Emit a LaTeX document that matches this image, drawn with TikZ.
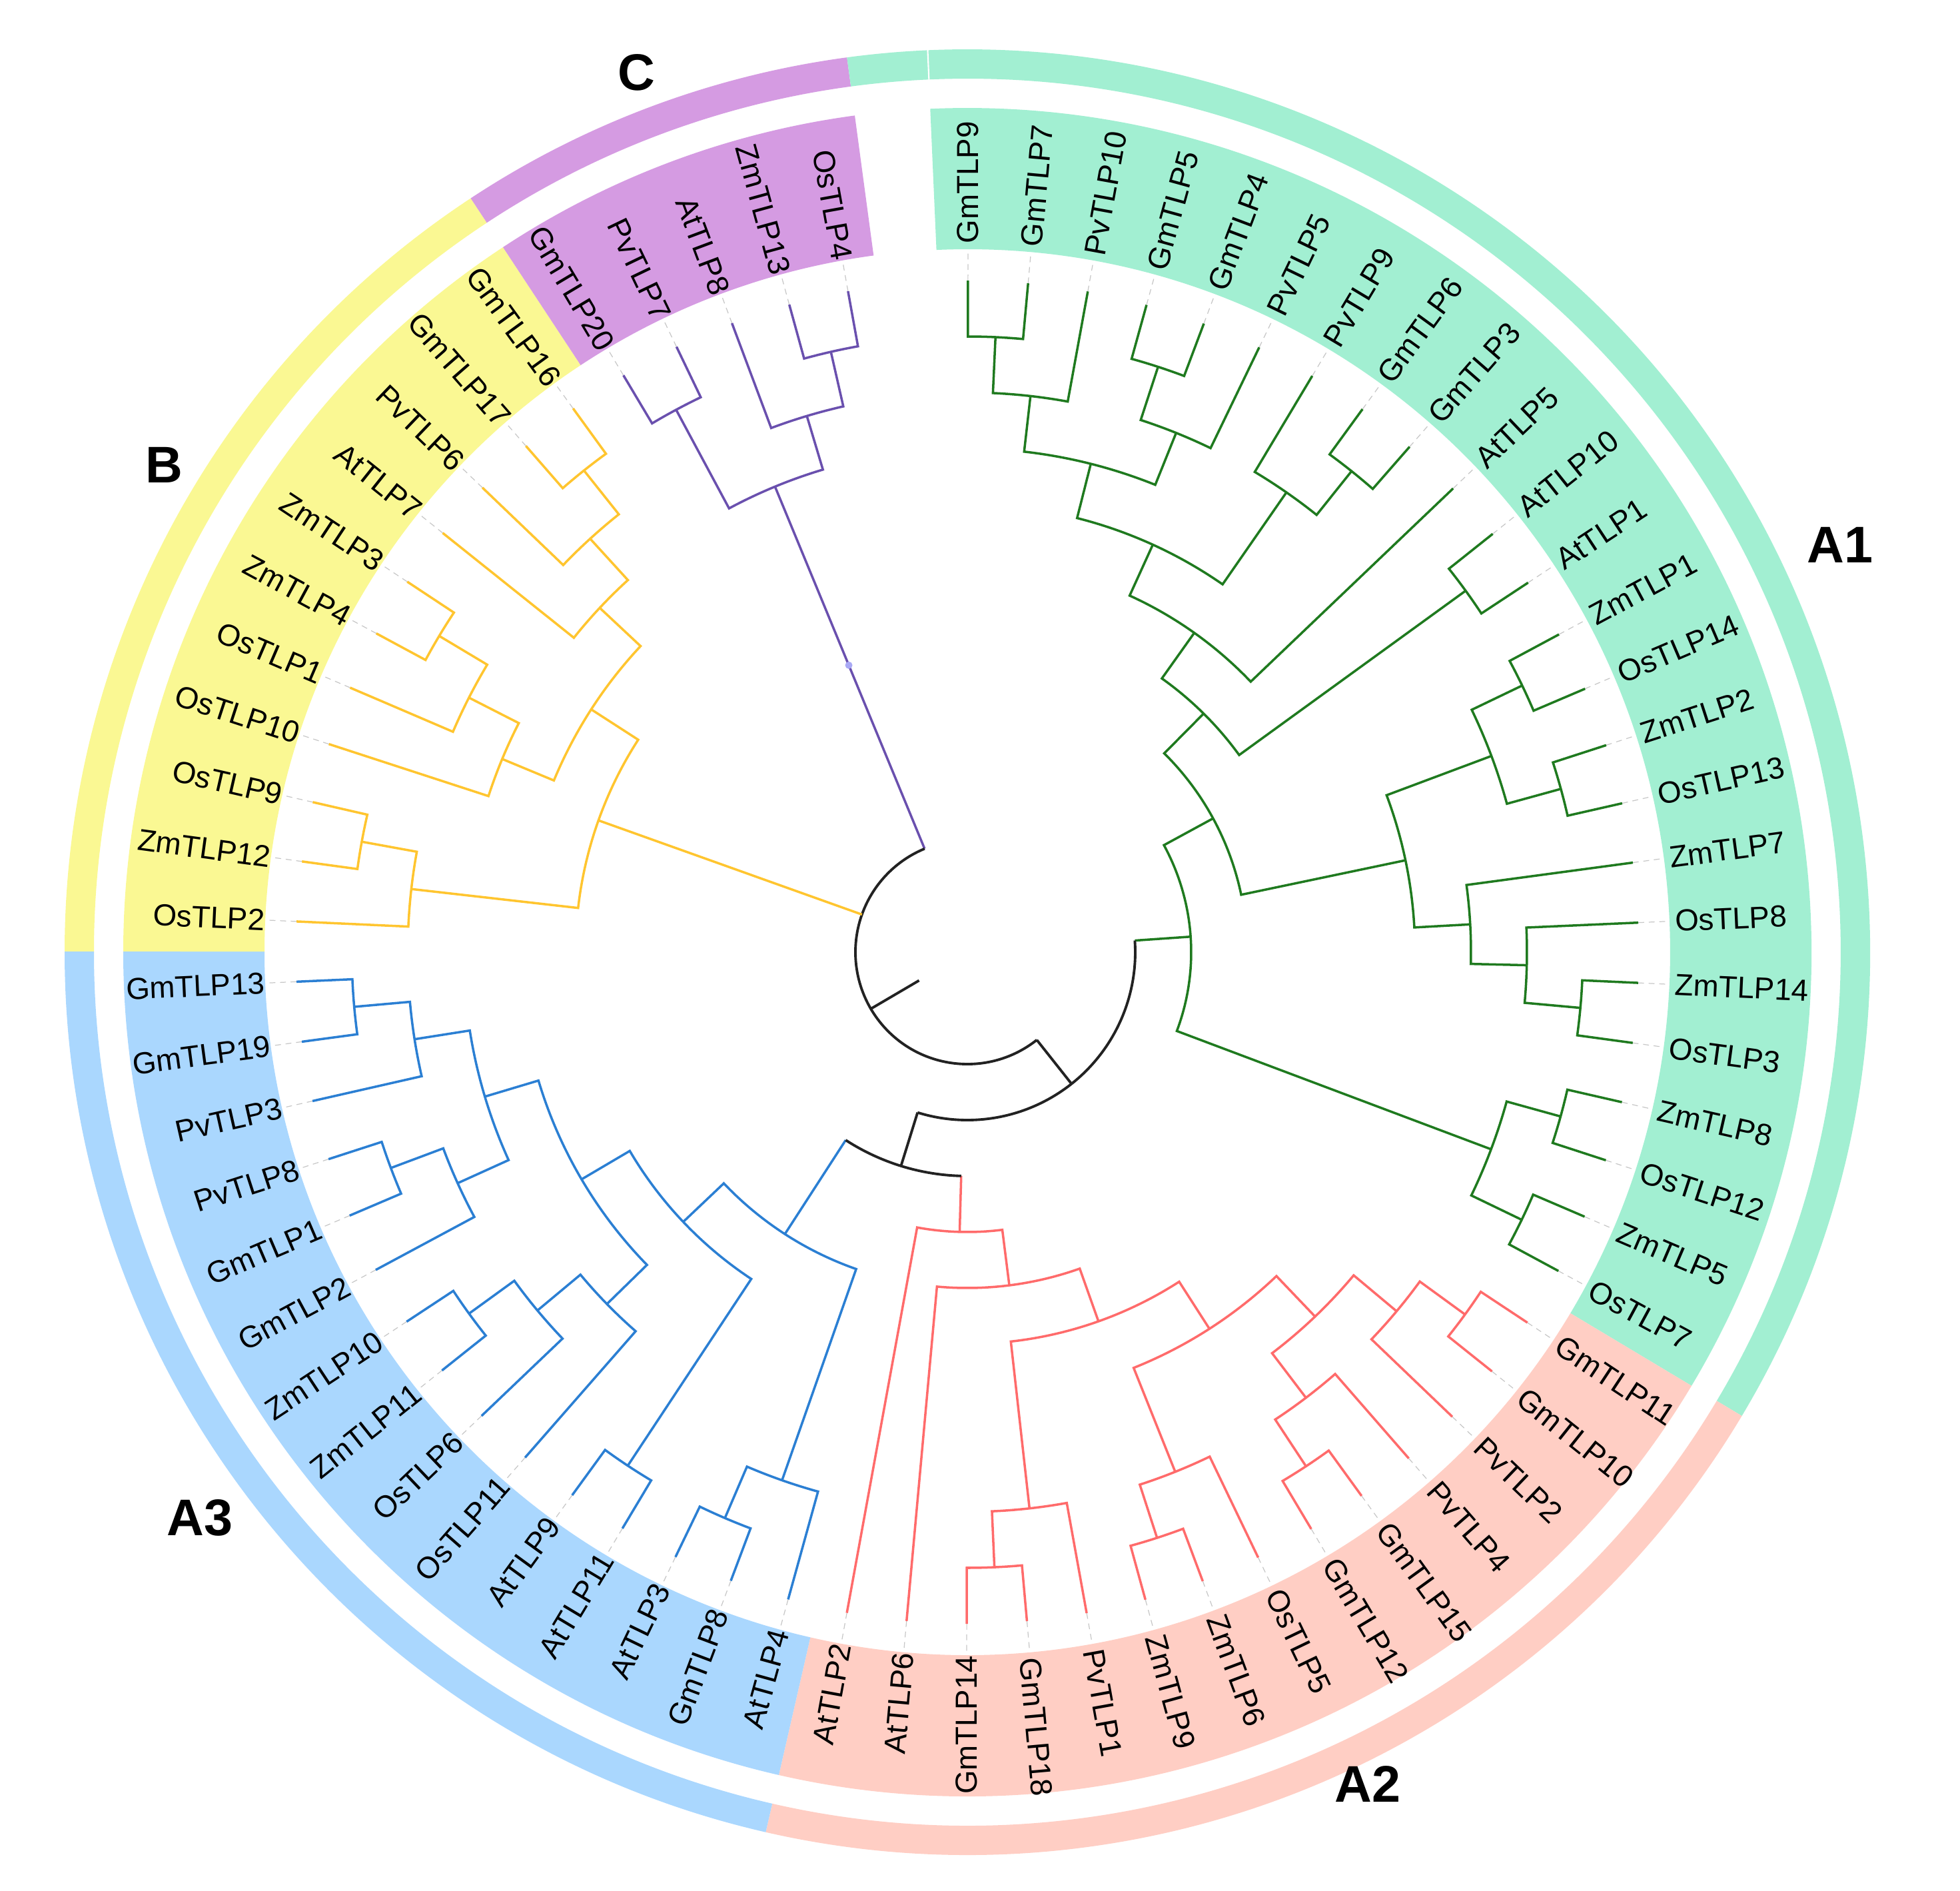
\documentclass[tikz,border=0pt]{standalone}
\usepackage{fontspec}
\setmainfont{Liberation Sans}

\definecolor{bandA1}{HTML}{A2EFD2}
\definecolor{bandA2}{HTML}{FFCEC4}
\definecolor{bandA3}{HTML}{AAD7FE}
\definecolor{bandB}{HTML}{FAF893}
\definecolor{bandC}{HTML}{D59BE2}
\definecolor{lineA1}{HTML}{1F7A1F}
\definecolor{lineA2}{HTML}{FF6B6B}
\definecolor{lineA3}{HTML}{2B7FD3}
\definecolor{lineB}{HTML}{FFC52F}
\definecolor{lineC}{HTML}{6A50AE}
\definecolor{lineRoot}{HTML}{222222}
\definecolor{markC}{HTML}{A9A9F5}

\tikzset{
    branch/.style={line width=1pt},
    spine/.style={line width=1.1pt, draw=lineRoot},
    cladeA1/.style={draw=lineA1},
    cladeA2/.style={draw=lineA2},
    cladeA3/.style={draw=lineA3},
    cladeB/.style={draw=lineB},
    cladeC/.style={draw=lineC},
    tipline/.style={draw=black!22, line width=0.35pt, dash pattern=on 2.5pt off 2pt},
    leaflabel/.style={inner sep=0pt, font=\fontsize{13}{15}\selectfont},
    cladelabel/.style={font=\fontsize{22}{26}\selectfont\bfseries},
}

\newcommand\rTip{10.08}
\newcommand\rDot{10.55}
\newcommand\lstep{0.84}
\newcommand\slotw{5.142857}

% one tip: slot number, name
\newcommand\leaf[2]{%
    \pgfmathsetmacro\leafang{89.95-#1*\slotw}%
    \expandafter\xdef\csname ang#2\endcsname{\leafang}%
    \coordinate (#2) at (\leafang:\rTip);
    \draw[tipline] (#2) -- (\leafang:\rDot);
    \pgfmathparse{cos(\leafang)}%
    \ifdim\pgfmathresult pt<0pt
        \pgfmathsetmacro\leafrot{\leafang+180}%
        \node[leaflabel, anchor=east, rotate=\leafrot] (lab#2) at (\leafang:10.55) {#2};
    \else
        \node[leaflabel, anchor=west, rotate=\leafang] (lab#2) at (\leafang:10.63) {#2};
    \fi
}

% inner node: name, child, child, level, colour
\newcommand\clade[5]{%
    \pgfmathsetmacro\cladeA{\csname ang#2\endcsname}%
    \pgfmathsetmacro\cladeB{\csname ang#3\endcsname}%
    \pgfmathsetmacro\cladeM{(\cladeA+\cladeB)/2}%
    \pgfmathsetmacro\cladeR{#4*\lstep}%
    \expandafter\xdef\csname ang#1\endcsname{\cladeM}%
    \coordinate (#1) at (\cladeM:\cladeR);
    \draw[branch, #5] (#2) -- (\cladeA:\cladeR) arc[start angle=\cladeA, end angle=\cladeB, radius=\cladeR] -- (#3);
}

% backbone node: name, child, its colour, child, its colour, level
\newcommand\joint[6]{%
    \pgfmathsetmacro\cladeA{\csname ang#2\endcsname}%
    \pgfmathsetmacro\cladeB{\csname ang#4\endcsname}%
    \pgfmathsetmacro\cladeM{(\cladeA+\cladeB)/2}%
    \pgfmathsetmacro\cladeR{#6*\lstep}%
    \expandafter\xdef\csname ang#1\endcsname{\cladeM}%
    \coordinate (#1) at (\cladeM:\cladeR);
    \draw[branch, #3] (#2) -- (\cladeA:\cladeR);
    \draw[branch, #5] (#4) -- (\cladeB:\cladeR);
    \draw[spine] (\cladeA:\cladeR) arc[start angle=\cladeA, end angle=\cladeB, radius=\cladeR];
}

% ring piece: first slot, last slot, inner, outer, colour
\newcommand\sector[5]{%
    \pgfmathsetmacro\secA{89.95-#1*\slotw}%
    \pgfmathsetmacro\secB{89.95-#2*\slotw}%
    \fill[#5] (\secA:#3) arc[start angle=\secA, end angle=\secB, radius=#3]
        -- (\secB:#4) arc[start angle=\secB, end angle=\secA, radius=#4] -- cycle;
}

\begin{document}
\begin{tikzpicture}
    \useasboundingbox (-14.52,-14.08) rectangle (14.90,14.29);

    % label bands
    \sector{-0.5}{23.5}{10.55}{12.67}{bandA1}
    \sector{23.5}{37.5}{10.55}{12.67}{bandA2}
    \sector{37.5}{52.5}{10.55}{12.67}{bandA3}
    \sector{52.5}{63.5}{10.55}{12.67}{bandB}
    \sector{63.5}{68.5}{10.55}{12.67}{bandC}

    % outer ring
    \sector{-0.5}{23.5}{13.11}{13.55}{bandA1}
    \sector{23.5}{37.5}{13.11}{13.55}{bandA2}
    \sector{37.5}{52.5}{13.11}{13.55}{bandA3}
    \sector{52.5}{63.5}{13.11}{13.55}{bandB}
    \sector{63.5}{68.5}{13.11}{13.55}{bandC}
    \sector{68.5}{69.5}{13.11}{13.55}{bandA1}
    \draw[white, line width=0.6pt] (92.52:13.0) -- (92.52:13.7);

    \foreach \i/\n in {0/GmTLP9, 1/GmTLP7, 2/PvTLP10, 3/GmTLP5, 4/GmTLP4, 5/PvTLP5,
        6/PvTLP9, 7/GmTLP6, 8/GmTLP3, 9/AtTLP5, 10/AtTLP10, 11/AtTLP1, 12/ZmTLP1,
        13/OsTLP14, 14/ZmTLP2, 15/OsTLP13, 16/ZmTLP7, 17/OsTLP8, 18/ZmTLP14, 19/OsTLP3,
        20/ZmTLP8, 21/OsTLP12, 22/ZmTLP5, 23/OsTLP7, 24/GmTLP11, 25/GmTLP10, 26/PvTLP2,
        27/PvTLP4, 28/GmTLP15, 29/GmTLP12, 30/OsTLP5, 31/ZmTLP6, 32/ZmTLP9, 33/PvTLP1,
        34/GmTLP18, 35/GmTLP14, 36/AtTLP6, 37/AtTLP2, 38/AtTLP4, 39/GmTLP8, 40/AtTLP3,
        41/AtTLP11, 42/AtTLP9, 43/OsTLP11, 44/OsTLP6, 45/ZmTLP11, 46/ZmTLP10, 47/GmTLP2,
        48/GmTLP1, 49/PvTLP8, 50/PvTLP3, 51/GmTLP19, 52/GmTLP13, 53/OsTLP2, 54/ZmTLP12,
        55/OsTLP9, 56/OsTLP10, 57/OsTLP1, 58/ZmTLP4, 59/ZmTLP3, 60/AtTLP7, 61/PvTLP6,
        62/GmTLP17, 63/GmTLP16, 64/GmTLP20, 65/PvTLP7, 66/AtTLP8, 67/ZmTLP13, 68/OsTLP4}
        {\leaf{\i}{\n}}

    % A1
    \clade{aGG97}{GmTLP9}{GmTLP7}{11}{cladeA1}
    \clade{aPv10}{aGG97}{PvTLP10}{10}{cladeA1}
    \clade{aGG54}{GmTLP5}{GmTLP4}{11}{cladeA1}
    \clade{aPv5}{aGG54}{PvTLP5}{10}{cladeA1}
    \clade{aLeg}{aPv10}{aPv5}{9}{cladeA1}
    \clade{aGG63}{GmTLP6}{GmTLP3}{11}{cladeA1}
    \clade{aPv9}{PvTLP9}{aGG63}{10}{cladeA1}
    \clade{aLegAll}{aLeg}{aPv9}{8}{cladeA1}
    \clade{aAt5}{aLegAll}{AtTLP5}{7}{cladeA1}
    \clade{aAt}{AtTLP10}{AtTLP1}{11}{cladeA1}
    \clade{aDicot}{aAt5}{aAt}{6}{cladeA1}
    \clade{aZO1}{ZmTLP1}{OsTLP14}{11}{cladeA1}
    \clade{aZO2}{ZmTLP2}{OsTLP13}{11}{cladeA1}
    \clade{aZO12}{aZO1}{aZO2}{10}{cladeA1}
    \clade{aZO3}{ZmTLP14}{OsTLP3}{11}{cladeA1}
    \clade{aOs8}{OsTLP8}{aZO3}{10}{cladeA1}
    \clade{aZm7}{ZmTLP7}{aOs8}{9}{cladeA1}
    \clade{aMono}{aZO12}{aZm7}{8}{cladeA1}
    \clade{aUp}{aDicot}{aMono}{5}{cladeA1}
    \clade{aZO4}{ZmTLP8}{OsTLP12}{11}{cladeA1}
    \clade{aZO5}{ZmTLP5}{OsTLP7}{11}{cladeA1}
    \clade{aLow}{aZO4}{aZO5}{10}{cladeA1}
    \clade{cA1}{aUp}{aLow}{4}{cladeA1}

    % A2
    \clade{rGG1}{GmTLP11}{GmTLP10}{11}{cladeA2}
    \clade{rPv2}{rGG1}{PvTLP2}{10}{cladeA2}
    \clade{rGG2}{GmTLP15}{GmTLP12}{11}{cladeA2}
    \clade{rPv4}{PvTLP4}{rGG2}{10}{cladeA2}
    \clade{rLeg}{rPv2}{rPv4}{9}{cladeA2}
    \clade{rZZ}{ZmTLP6}{ZmTLP9}{11}{cladeA2}
    \clade{rOs5}{OsTLP5}{rZZ}{10}{cladeA2}
    \clade{rMid}{rLeg}{rOs5}{8}{cladeA2}
    \clade{rGG3}{GmTLP18}{GmTLP14}{11}{cladeA2}
    \clade{rPv1}{PvTLP1}{rGG3}{10}{cladeA2}
    \clade{rBig}{rMid}{rPv1}{7}{cladeA2}
    \clade{rAt6}{rBig}{AtTLP6}{6}{cladeA2}
    \clade{cA2}{rAt6}{AtTLP2}{5}{cladeA2}

    % A3
    \clade{uGA}{GmTLP8}{AtTLP3}{11}{cladeA3}
    \clade{uAt4}{AtTLP4}{uGA}{10}{cladeA3}
    \clade{uAt}{AtTLP11}{AtTLP9}{11}{cladeA3}
    \clade{uZZ}{ZmTLP11}{ZmTLP10}{11}{cladeA3}
    \clade{uOs6}{OsTLP6}{uZZ}{10}{cladeA3}
    \clade{uOs11}{OsTLP11}{uOs6}{9}{cladeA3}
    \clade{uGP}{GmTLP1}{PvTLP8}{11}{cladeA3}
    \clade{uGm2}{GmTLP2}{uGP}{10}{cladeA3}
    \clade{uGG}{GmTLP19}{GmTLP13}{11}{cladeA3}
    \clade{uPv3}{PvTLP3}{uGG}{10}{cladeA3}
    \clade{uLeg}{uGm2}{uPv3}{9}{cladeA3}
    \clade{uMix}{uOs11}{uLeg}{8}{cladeA3}
    \clade{uLow}{uAt}{uMix}{7}{cladeA3}
    \clade{cA3}{uAt4}{uLow}{6}{cladeA3}

    % B
    \clade{bZO}{ZmTLP12}{OsTLP9}{11}{cladeB}
    \clade{bOs2}{OsTLP2}{bZO}{10}{cladeB}
    \clade{bZZ}{ZmTLP4}{ZmTLP3}{11}{cladeB}
    \clade{bOs1}{OsTLP1}{bZZ}{10}{cladeB}
    \clade{bOs10}{OsTLP10}{bOs1}{9}{cladeB}
    \clade{bGG}{GmTLP17}{GmTLP16}{11}{cladeB}
    \clade{bPv6}{PvTLP6}{bGG}{10}{cladeB}
    \clade{bAt7}{AtTLP7}{bPv6}{9}{cladeB}
    \clade{bUp}{bOs10}{bAt7}{8}{cladeB}
    \clade{cB}{bOs2}{bUp}{7}{cladeB}

    % C
    \clade{kGP}{GmTLP20}{PvTLP7}{11}{cladeC}
    \clade{kZO}{ZmTLP13}{OsTLP4}{11}{cladeC}
    \clade{kAt8}{AtTLP8}{kZO}{10}{cladeC}
    \clade{cC}{kGP}{kAt8}{9}{cladeC}

    % backbone
    \joint{nA23}{cA3}{cladeA3}{cA2}{cladeA2}{4}
    \joint{nA}{cA1}{cladeA1}{nA23}{spine}{3}
    \joint{root}{nA}{spine}{cC}{cladeC}{2}
    \pgfmathsetmacro\angBstem{\csname angcB\endcsname}
    \pgfmathsetmacro\angRoot{\csname angroot\endcsname}
    \pgfmathsetmacro\angCstem{\csname angcC\endcsname}
    \draw[branch, cladeB] (cB) -- (\angBstem:2*\lstep);
    \coordinate (rootbase) at (\angRoot:\lstep);
    \draw[spine] (root) -- (rootbase);
    \node[circle, fill=markC, inner sep=0pt, minimum size=0.11cm] (dotC) at (\angCstem:4.66) {};

    % clade names
    \node[cladelabel] (labA1) at (13.10, 6.11) {A1};
    \node[cladelabel] (labA2) at (6.01, -12.48) {A2};
    \node[cladelabel] (labA3) at (-11.52, -8.49) {A3};
    \node[cladelabel] (labB) at (-12.06, 7.31) {B};
    \node[cladelabel] (labC) at (-4.97, 13.20) {C};
\end{tikzpicture}
\end{document}
